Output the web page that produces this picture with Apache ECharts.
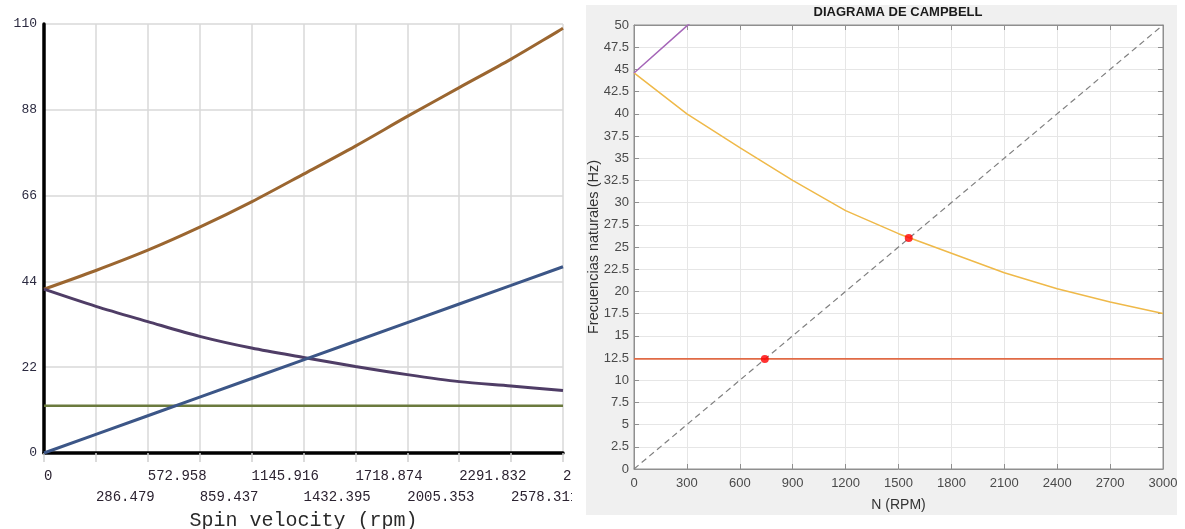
<!DOCTYPE html>
<html>
<head>
<meta charset="utf-8">
<script src="https://cdn.jsdelivr.net/npm/echarts@6/dist/echarts.min.js"></script>
<style>
  html, body { margin: 0; padding: 0; background: #ffffff; width: 1185px; height: 529px; overflow: hidden; }
  #spin { position: absolute; left: 0; top: 0; width: 572px; height: 529px; background: #ffffff; }
  #campbell { position: absolute; left: 586px; top: 5px; width: 591px; height: 510px; background: #f0f0f0; }
</style>
</head>
<body>
<div id="spin"></div>
<div id="campbell"></div>
<script>
// ---- Spin velocity chart (left) ----
const spinTicks = [0, 286.479, 572.958, 859.437, 1145.916, 1432.395, 1718.874, 2005.353, 2291.832, 2578.311, 2864.789];
const spinForward  = [42.0, 46.8, 52.0, 57.9, 64.4, 71.5, 78.7, 86.3, 93.7, 101.0, 108.9];
const spinBackward = [42.0, 37.6, 33.7, 29.9, 26.9, 24.5, 22.2, 20.1, 18.3, 17.2, 16.0];
const spinSync     = [0, 4.77, 9.55, 14.32, 19.10, 23.87, 28.65, 33.42, 38.20, 42.97, 47.75];
const spinFlat     = [12.1, 12.1];
const spinFlatRpm  = [0, 2864.789];
const freqTicks    = [0, 22, 44, 66, 88, 110];

// ---- Campbell diagram (right) ----
const campbellRpm   = [0, 300, 600, 900, 1200, 1500, 1800, 2100, 2400, 2700, 3000];
const modeBackward  = [44.6, 40.0, 36.2, 32.5, 29.1, 26.5, 24.3, 22.1, 20.3, 18.8, 17.5];
const modeForwardRpm = [0, 300, 600];
const modeForward   = [44.6, 49.9, 55.0];
const excitationRpm = [0, 3000];
const excitationHz  = [12.4, 12.4];
const oneXRpm       = [0, 3000];
const oneXHz        = [0, 50];
const criticalRpm   = [742, 1558];
const criticalHz    = [12.4, 26.0];

const pairs = (xs, ys) => xs.map((x, i) => [x, ys[i]]);

const mono = "'Liberation Mono', 'DejaVu Sans Mono', monospace";
const sans = "'Liberation Sans', Arial, Helvetica, sans-serif";

// position of a value in the spin tick list (labels alternate between two rows)
const spinTickIndex = v => spinTicks.findIndex(t => Math.abs(t - v) < 0.01);

const spinChart = echarts.init(document.getElementById('spin'), null, { renderer: 'canvas' });
spinChart.setOption({
  animation: false,
  backgroundColor: '#ffffff',
  grid: { left: 44, right: 9, top: 24, bottom: 76, containLabel: false, outerBoundsMode: 'none' },
  xAxis: {
    type: 'value',
    min: 0,
    max: 2864.789,
    interval: 286.479,
    name: 'Spin velocity (rpm)',
    nameLocation: 'middle',
    nameGap: 58,
    nameMoveOverlap: false,
    nameTextStyle: { fontFamily: mono, fontSize: 20, color: '#2a2a2a' },
    axisLine: { show: true, onZero: false, lineStyle: { color: '#000000', width: 3.5 } },
    axisTick: { show: true, inside: false, length: 9, customValues: spinTicks, lineStyle: { color: '#d0d0d0', width: 1.5 } },
    axisLabel: {
      customValues: spinTicks,
      hideOverlap: false,
      showMinLabel: true,
      showMaxLabel: true,
      align: 'left',
      verticalAlign: 'top',
      margin: 16,
      fontFamily: mono,
      fontSize: 14,
      color: '#2b2230',
      formatter: v => {
        const t = v === 0 ? '0' : v.toFixed(3);
        return spinTickIndex(v) % 2 === 1 ? '{lo|' + t + '}' : '{hi|' + t + '}';
      },
      rich: {
        hi: { fontFamily: mono, fontSize: 14, color: '#2b2230', padding: [0, 0, 21, 0] },
        lo: { fontFamily: mono, fontSize: 14, color: '#2b2230', padding: [21, 0, 0, 0] }
      }
    },
    splitLine: { show: true, lineStyle: { color: '#d8d8d8', width: 1.5 } }
  },
  yAxis: {
    type: 'value',
    min: 0,
    max: 110,
    interval: 22,
    axisLine: { show: true, onZero: false, lineStyle: { color: '#000000', width: 3.5 } },
    axisTick: { show: false },
    axisLabel: {
      customValues: freqTicks,
      margin: 7,
      fontFamily: mono,
      fontSize: 13,
      color: '#2b2a40'
    },
    splitLine: { show: true, lineStyle: { color: '#d8d8d8', width: 1.5 } }
  },
  series: [
    { type: 'line', data: pairs(spinTicks, spinForward), smooth: 0.3, showSymbol: false, lineStyle: { color: '#9b6630', width: 3 }, z: 5 },
    { type: 'line', data: pairs(spinTicks, spinBackward), smooth: 0.3, showSymbol: false, lineStyle: { color: '#4f3d66', width: 3 }, z: 5 },
    { type: 'line', data: pairs(spinTicks, spinSync), showSymbol: false, lineStyle: { color: '#3c5687', width: 3 }, z: 5 },
    { type: 'line', data: pairs(spinFlatRpm, spinFlat), showSymbol: false, lineStyle: { color: '#6b7a3e', width: 2.5 }, z: 4 }
  ]
});

const campbellChart = echarts.init(document.getElementById('campbell'), null, { renderer: 'canvas' });
const boxColor = '#8f8f8f';
const gridColor = '#e6e6e6';
campbellChart.setOption({
  animation: false,
  backgroundColor: '#f0f0f0',
  title: {
    text: 'DIAGRAMA DE CAMPBELL',
    left: 312,
    top: 1,
    padding: 0,
    textAlign: 'center',
    textStyle: { fontFamily: sans, fontSize: 13, fontWeight: 'bold', color: '#1a1a1a' }
  },
  grid: { left: 48, right: 14, top: 20, bottom: 46, show: true, backgroundColor: '#ffffff', borderColor: boxColor, borderWidth: 1, containLabel: false, outerBoundsMode: 'none' },
  xAxis: [
    {
      type: 'value', position: 'bottom', min: 0, max: 3000, interval: 300,
      name: 'N (RPM)', nameLocation: 'middle', nameGap: 29, nameMoveOverlap: false,
      nameTextStyle: { fontFamily: sans, fontSize: 14, color: '#333333' },
      axisLine: { show: true, onZero: false, lineStyle: { color: boxColor, width: 1 } },
      axisTick: { show: true, inside: true, length: 5, lineStyle: { color: boxColor } },
      axisLabel: { margin: 8, fontFamily: sans, fontSize: 13, color: '#4a4a4a', formatter: v => String(v) },
      splitLine: { show: true, lineStyle: { color: gridColor, width: 1 } }
    },
    {
      type: 'value', position: 'top', min: 0, max: 3000, interval: 300,
      axisLine: { show: true, onZero: false, lineStyle: { color: boxColor, width: 1 } },
      axisTick: { show: true, inside: true, length: 5, lineStyle: { color: boxColor } },
      axisLabel: { show: false },
      splitLine: { show: false }
    }
  ],
  yAxis: [
    {
      type: 'value', position: 'left', min: 0, max: 50, interval: 2.5,
      name: 'Frecuencias naturales (Hz)', nameLocation: 'middle', nameGap: 33, nameMoveOverlap: false,
      nameTextStyle: { fontFamily: sans, fontSize: 14.5, color: '#333333' },
      axisLine: { show: true, onZero: false, lineStyle: { color: boxColor, width: 1 } },
      axisTick: { show: true, inside: true, length: 5, lineStyle: { color: boxColor } },
      axisLabel: { margin: 5, fontFamily: sans, fontSize: 13, color: '#4a4a4a' },
      splitLine: { show: true, lineStyle: { color: gridColor, width: 1 } }
    },
    {
      type: 'value', position: 'right', min: 0, max: 50, interval: 2.5,
      axisLine: { show: true, onZero: false, lineStyle: { color: boxColor, width: 1 } },
      axisTick: { show: true, inside: true, length: 5, lineStyle: { color: boxColor } },
      axisLabel: { show: false },
      splitLine: { show: false }
    }
  ],
  series: [
    { type: 'line', data: pairs(oneXRpm, oneXHz), showSymbol: false, clip: true,
      lineStyle: { color: '#808080', width: 1.2, type: [6, 4] }, z: 3 },
    { type: 'line', data: pairs(excitationRpm, excitationHz), showSymbol: false, clip: true,
      lineStyle: { color: '#e06a45', width: 1.8 }, z: 3 },
    { type: 'line', data: pairs(campbellRpm, modeBackward), showSymbol: false, clip: true,
      lineStyle: { color: '#efb949', width: 1.5 }, z: 3 },
    { type: 'line', data: pairs(modeForwardRpm, modeForward), showSymbol: false, clip: true,
      lineStyle: { color: '#a566b8', width: 1.5 }, z: 3 },
    { type: 'scatter', data: pairs(criticalRpm, criticalHz), symbol: 'circle', symbolSize: 8,
      itemStyle: { color: '#ff0000' }, z: 6 }
  ]
});
</script>
</body>
</html>
